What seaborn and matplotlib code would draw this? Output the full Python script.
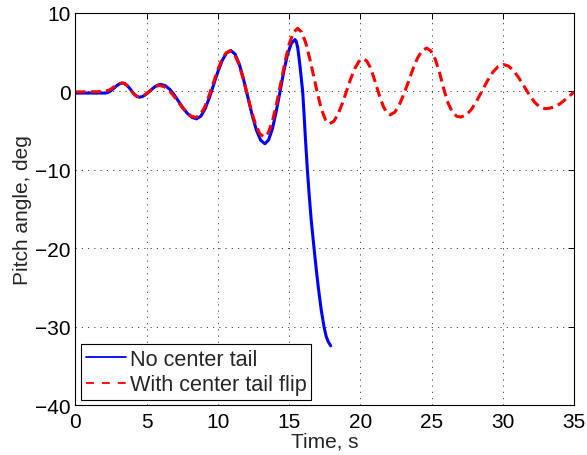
import matplotlib
matplotlib.use("Agg")
import matplotlib.pyplot as plt
import pandas as pd
import seaborn as sns

# Pitch response without the center tail (simulation diverges after ~18 s)
t_no_tail = [0.0, 1.0, 2.0, 2.10, 2.25, 2.40, 2.55, 2.71, 2.86, 3.01, 3.16, 3.31,
             3.46, 3.60, 3.75, 3.90, 4.04, 4.19, 4.33, 4.48,
             4.67, 4.86, 5.05, 5.24, 5.43, 5.62, 5.81, 6.00,
             6.31, 6.63, 6.94, 7.25, 7.56, 7.88, 8.19, 8.50,
             8.80, 9.10, 9.40, 9.70, 10.00, 10.30, 10.60, 10.90,
             11.20, 11.50, 11.80, 12.10, 12.40, 12.70, 13.00, 13.30,
             13.56, 13.83, 14.09, 14.36, 14.62, 14.88, 15.15, 15.41,
             15.50, 15.60, 15.70, 15.80, 15.88, 15.95, 16.05, 16.15, 16.28,
             16.40, 16.55, 16.75, 16.90, 17.05, 17.25, 17.45, 17.60, 17.75, 17.92]
pitch_no_tail = [-0.2, -0.2, -0.2, -0.20, -0.15, -0.01, 0.19, 0.44, 0.68, 0.88, 1.02, 1.07,
                 1.00, 0.81, 0.52, 0.18, -0.17, -0.46, -0.65, -0.72,
                 -0.66, -0.48, -0.22, 0.09, 0.40, 0.66, 0.84, 0.90,
                 0.73, 0.26, -0.45, -1.29, -2.13, -2.84, -3.31, -3.48,
                 -3.15, -2.21, -0.79, 0.87, 2.53, 3.95, 4.89, 5.22,
                 4.77, 3.49, 1.55, -0.72, -2.99, -4.93, -6.21, -6.66,
                 -6.16, -4.72, -2.56, -0.02, 2.52, 4.68, 6.12, 6.62,
                 6.35, 5.6, 4.2, 2.6, 1.2, 0.0, -3.0, -6.2, -10.0,
                 -13.0, -16.4, -20.0, -22.6, -25.0, -27.8, -30.0, -31.2, -31.9, -32.4]

# Pitch response with the center tail flip
t_flip = [0.0, 0.5, 1.0, 1.5, 1.8, 1.99, 2.18, 2.36, 2.55, 2.74, 2.93, 3.11, 3.30,
          3.44, 3.59, 3.73, 3.87, 4.02, 4.16, 4.31, 4.45,
          4.63, 4.82, 5.00, 5.19, 5.37, 5.55, 5.74, 5.92,
          6.24, 6.55, 6.87, 7.19, 7.50, 7.82, 8.13, 8.45,
          8.75, 9.05, 9.35, 9.65, 9.95, 10.25, 10.55, 10.85,
          11.15, 11.45, 11.75, 12.05, 12.34, 12.64, 12.94, 13.24,
          13.53, 13.83, 14.12, 14.42, 14.71, 15.00, 15.30, 15.59,
          15.87, 16.15, 16.43, 16.72, 17.00, 17.28, 17.56, 17.84,
          18.14, 18.43, 18.73, 19.03, 19.32, 19.62, 19.91, 20.21,
          20.44, 20.68, 20.91, 21.15, 21.38, 21.62, 21.85, 22.09,
          22.41, 22.73, 23.05, 23.38, 23.70, 24.02, 24.34, 24.66,
          24.96, 25.26, 25.56, 25.86, 26.15, 26.45, 26.75, 27.05,
          27.42, 27.80, 28.17, 28.55, 28.92, 29.30, 29.67, 30.04,
          30.41, 30.77, 31.14, 31.51, 31.87, 32.24, 32.60, 32.97,
          33.30, 33.65, 34.00, 34.35, 34.70, 35.00]
pitch_flip = [-0.05, -0.05, -0.05, -0.03, 0.0, 0.02, 0.08, 0.18, 0.38, 0.64, 0.88, 1.03, 1.08,
              1.01, 0.82, 0.54, 0.20, -0.14, -0.42, -0.61, -0.68,
              -0.63, -0.47, -0.24, 0.04, 0.31, 0.55, 0.71, 0.76,
              0.61, 0.17, -0.49, -1.27, -2.05, -2.71, -3.15, -3.30,
              -2.98, -2.06, -0.67, 0.95, 2.57, 3.96, 4.88, 5.20,
              4.78, 3.59, 1.80, -0.30, -2.40, -4.19, -5.38, -5.80,
              -5.27, -3.78, -1.52, 1.13, 3.77, 6.03, 7.52, 8.05,
              7.59, 6.28, 4.30, 1.98, -0.35, -2.33, -3.64, -4.10,
              -3.79, -2.89, -1.54, 0.04, 1.61, 2.96, 3.86, 4.17,
              3.90, 3.13, 1.96, 0.60, -0.76, -1.93, -2.70, -2.97,
              -2.65, -1.73, -0.34, 1.28, 2.90, 4.29, 5.21, 5.53,
              5.15, 4.10, 2.40, 0.30, -1.45, -2.60, -3.15, -3.26,
              -3.01, -2.28, -1.19, 0.09, 1.37, 2.46, 3.18, 3.44,
              3.23, 2.62, 1.70, 0.62, -0.46, -1.38, -1.98, -2.20,
              -2.12, -1.95, -1.58, -1.08, -0.55, -0.05]

x_ticks = [0, 5, 10, 15, 20, 25, 30, 35]
y_ticks = [-40, -30, -20, -10, 0, 10]
y_tick_labels = ["\u221240", "\u221230", "\u221220", "\u221210", "0", "10"]

sns.set_style("white")
plt.rcParams["font.family"] = ["Liberation Sans", "DejaVu Sans"]
FS = 15

fig = plt.figure(figsize=(5.87, 4.56), dpi=100)
ax = fig.add_axes([0.1286, 0.1086, 0.8493, 0.8607])

df_a = pd.DataFrame({"t": t_no_tail, "pitch": pitch_no_tail})
df_b = pd.DataFrame({"t": t_flip, "pitch": pitch_flip})

sns.lineplot(data=df_a, x="t", y="pitch", ax=ax, color="#0000ff", linewidth=2.2,
             label="No center tail", sort=False)
sns.lineplot(data=df_b, x="t", y="pitch", ax=ax, color="#ff0000", linewidth=2.2,
             label="With center tail flip", sort=False)
ax.lines[1].set_dashes([3.3, 1.7])

ax.set_xlim(0, 35)
ax.set_ylim(-40, 10)
ax.set_xticks(x_ticks)
ax.set_yticks(y_ticks)
ax.set_yticklabels(y_tick_labels)
ax.set_xlabel("Time, s", fontsize=FS, labelpad=0)
ax.set_ylabel("Pitch angle, deg", fontsize=FS, labelpad=2)

ax.grid(True, color="0.2", linestyle=(0, (1.5, 6)), linewidth=0.6)
ax.tick_params(direction="in", length=4, width=0.7, top=True, right=True,
               labelsize=FS, colors="black")
ax.tick_params(axis="x", pad=5)
ax.tick_params(axis="y", pad=3.5)
for sp in ax.spines.values():
    sp.set_visible(True)
    sp.set_color("black")
    sp.set_linewidth(0.8)

leg = ax.legend(loc="lower left", fontsize=15.6, frameon=True, fancybox=False,
                edgecolor="black", framealpha=1, borderpad=0.2, labelspacing=0.22,
                handlelength=1.85, handletextpad=0.2, borderaxespad=0.27)
leg.get_frame().set_linewidth(0.8)
for h in leg.get_lines():
    h.set_linewidth(1.3)
leg.get_lines()[1].set_dashes([4.4, 4.4])

fig.savefig("out.png", dpi=100)
